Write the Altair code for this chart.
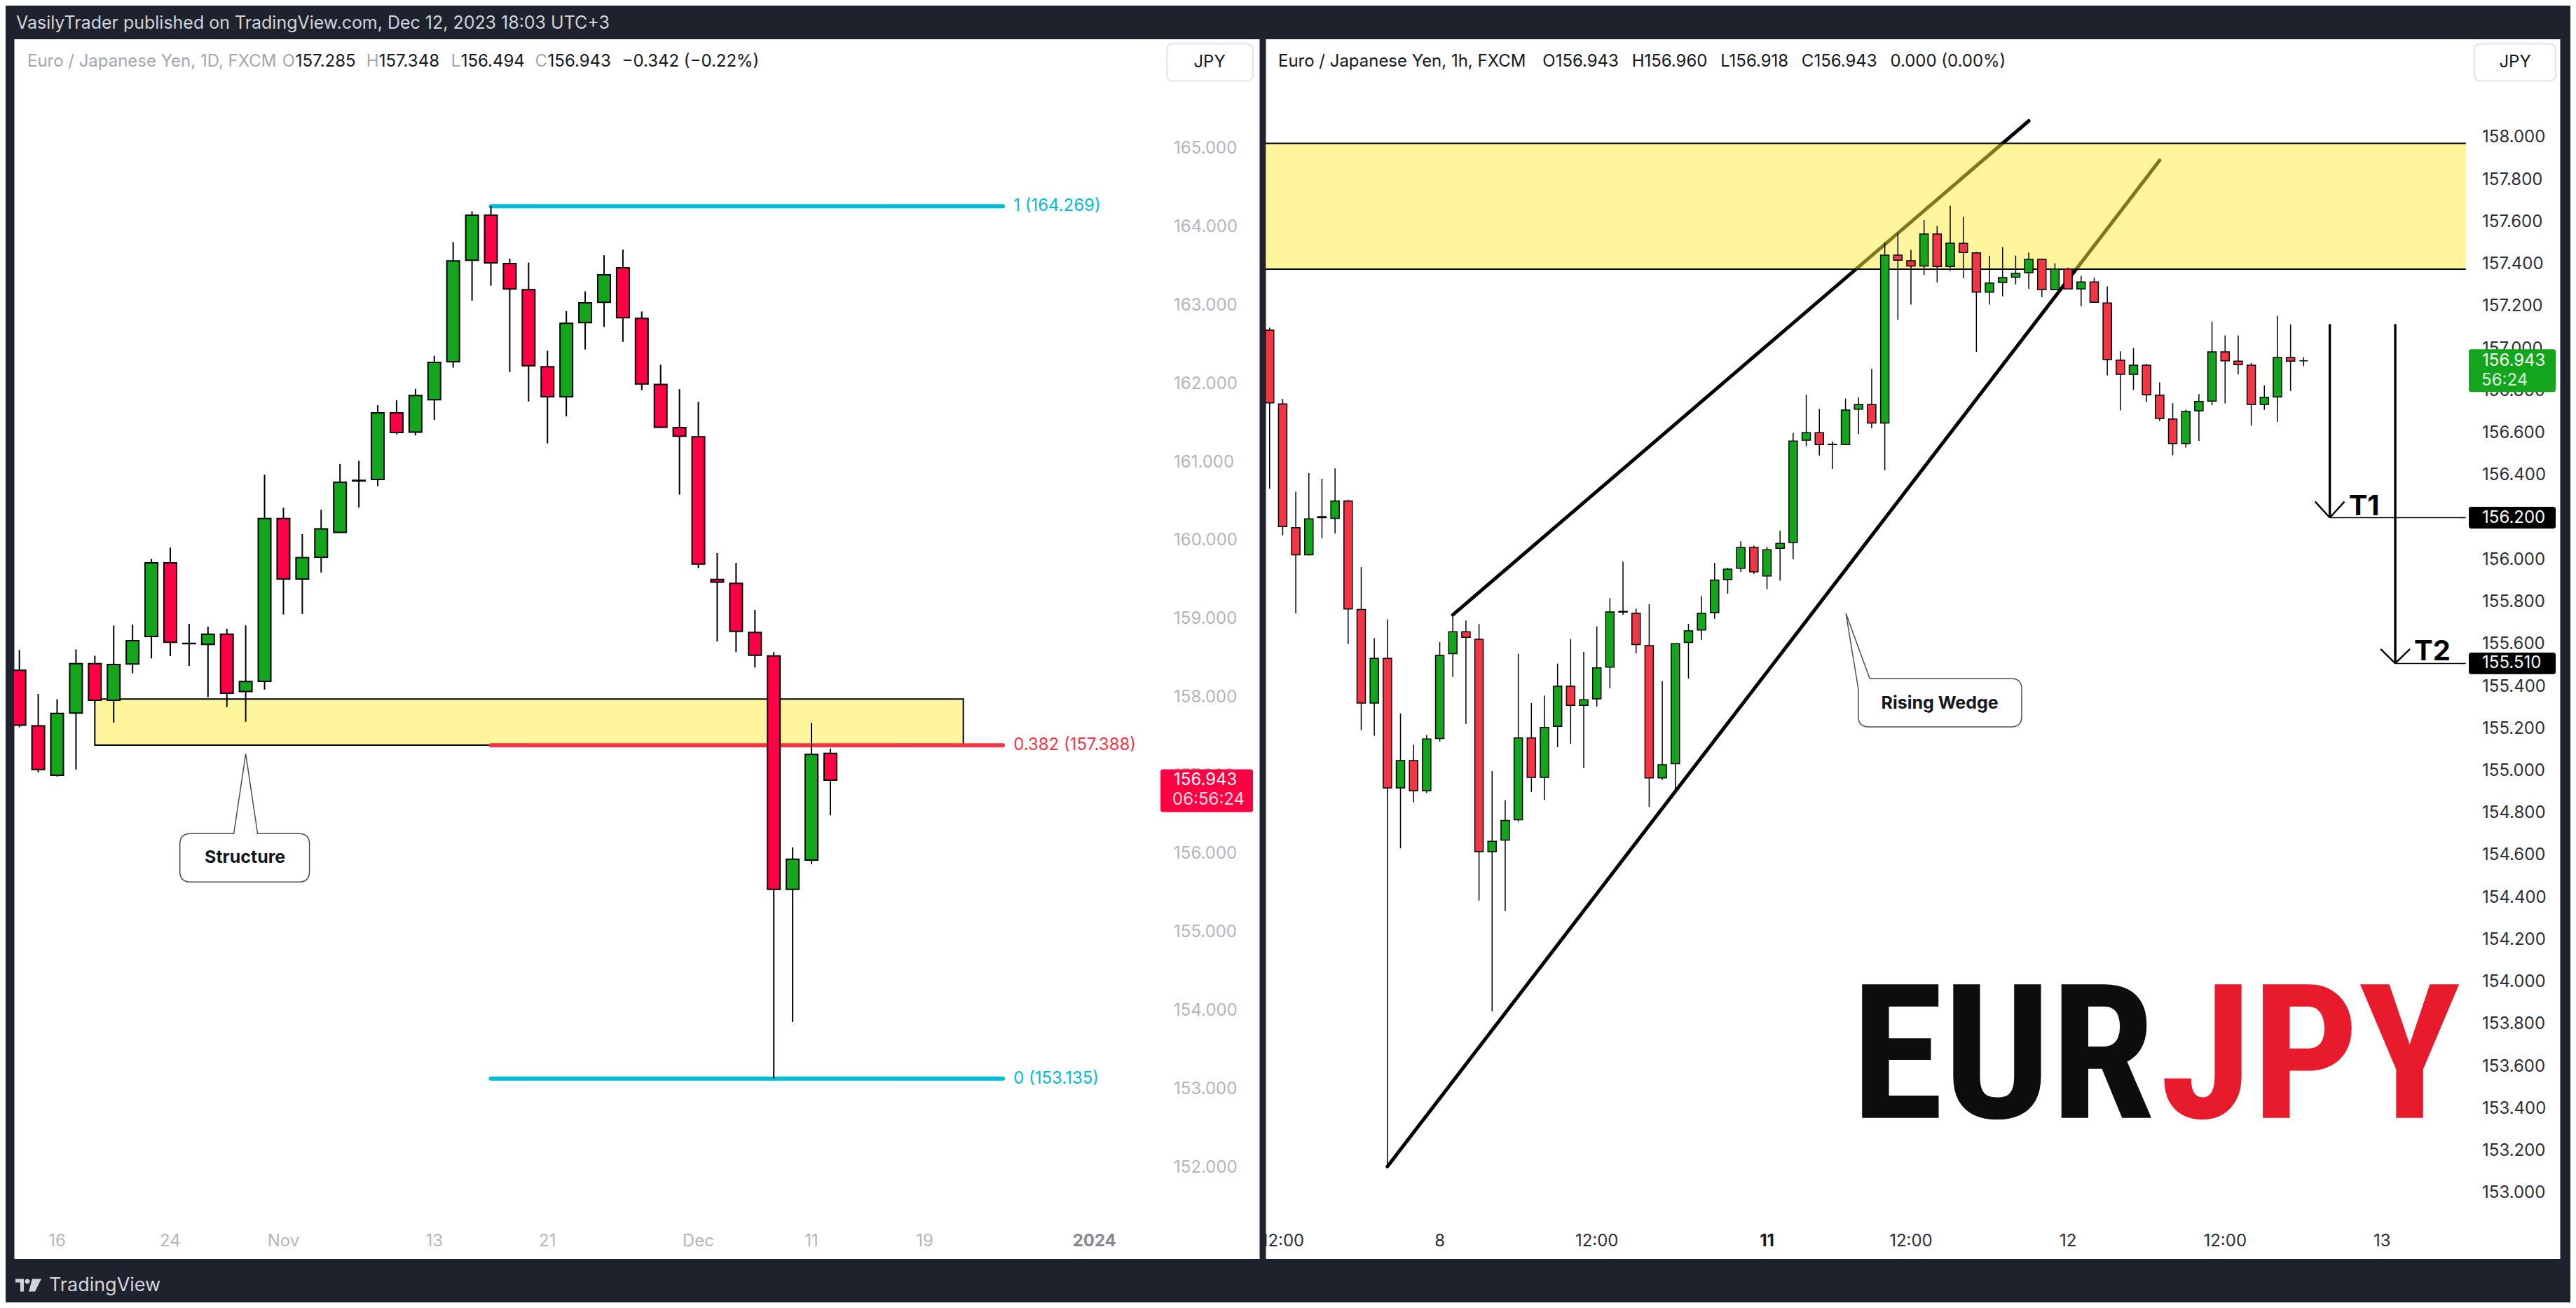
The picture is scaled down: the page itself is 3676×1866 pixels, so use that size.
import altair as alt
import pandas as pd

FONT = "Inter, Roboto, 'Noto Sans', sans-serif"
NARROW = ("'Roboto Condensed', 'Open Sans Condensed', 'Liberation Sans Narrow', "
          "'DejaVu Sans Condensed', 'Liberation Sans', sans-serif")

# ---------------- LEFT PANEL: EUR/JPY daily candles (index 0 = Oct 12, 2023) ----------------
D_IDX = list(range(44))
D_OPEN = [158.347, 157.636, 157.007, 157.801, 158.430, 157.963, 158.426, 158.777, 159.717, 158.690,
          158.678, 158.807, 158.076, 158.205, 160.282, 159.511, 159.789, 160.107, 160.770, 160.782,
          161.632, 161.385, 161.799, 162.284, 163.579, 164.153, 163.537, 163.204, 162.220, 161.837,
          162.782, 163.043, 163.482, 162.836, 161.993, 161.444, 161.326, 159.505, 159.456, 158.828,
          158.529, 155.551, 155.924, 157.285]
D_HIGH = [158.605, 158.043, 157.977, 158.612, 158.532, 158.916, 158.929, 159.769, 159.912, 158.939,
          158.903, 158.876, 158.919, 160.841, 160.421, 160.084, 160.395, 160.980, 161.020, 161.728,
          161.791, 161.938, 162.360, 163.811, 164.203, 164.269, 163.600, 163.549, 162.423, 162.929,
          163.182, 163.642, 163.714, 162.925, 162.246, 161.934, 161.773, 159.843, 159.716, 159.117,
          158.578, 156.086, 157.675, 157.348]
D_LOW = [157.620, 157.044, 156.991, 157.080, 157.940, 157.679, 158.307, 158.499, 158.526, 158.403,
         158.003, 157.877, 157.689, 158.099, 159.058, 159.065, 159.594, 160.100, 160.424, 160.696,
         161.357, 161.343, 161.541, 162.208, 163.064, 163.254, 162.153, 161.777, 161.242, 161.588,
         162.440, 162.727, 162.537, 161.921, 161.440, 160.588, 159.651, 158.715, 158.578, 158.382,
         153.135, 153.859, 155.870, 156.494]
D_CLOSE = [157.646, 157.080, 157.795, 158.430, 157.963, 158.420, 158.724, 159.717, 158.704, 158.686,
           158.807, 158.053, 158.202, 160.282, 159.511, 159.783, 160.150, 160.745, 160.762, 161.632,
           161.380, 161.853, 162.275, 163.571, 164.153, 163.545, 163.212, 162.233, 161.837, 162.773,
           163.035, 163.393, 162.845, 162.001, 161.448, 161.334, 159.702, 159.470, 158.843, 158.538,
           155.551, 155.934, 157.273, 156.943]
D_TICK_IDX = [2, 8, 14, 22, 28, 36, 42, 48, 57]
D_TICK_LBL = ["16", "24", "Nov", "13", "21", "Dec", "11", "19", "2024"]
D_BOLD_TICK = 57
D_PRICE_TICKS = [152.0, 153.0, 154.0, 155.0, 156.0, 157.0, 158.0, 159.0, 160.0, 161.0,
                 162.0, 163.0, 164.0, 165.0]

FIB_LEVEL = ["1", "0.382", "0"]
FIB_PRICE = [164.269, 157.388, 153.135]
FIB_FROM = [25, 25, 25]
FIB_TO = [52.15, 52.15, 52.15]
FIB_COLOR = ["#00bcd4", "#f23645", "#00bcd4"]

STRUCT_X = [4.0]
STRUCT_X2 = [50.05]
STRUCT_LO = [157.39]
STRUCT_HI = [157.98]
STRUCT_TIP_X = [12.0]
STRUCT_TIP_P = [157.28]
STRUCT_TEXT = ["Structure"]

D_LAST = [156.943]
D_LAST_TXT = ["156.943"]
D_TIMER = ["06:56:24"]

LEG_L_TEXT = ["Euro / Japanese Yen, 1D, FXCM", "O", "157.285", "H", "157.348", "L", "156.494",
              "C", "156.943", "\u22120.342 (\u22120.22%)"]

# ---------------- RIGHT PANEL: EUR/JPY 1h candles (index 0 = Dec 8 00:00) ----------------
H_IDX = list(range(-13, 67))
H_OPEN = [157.088, 156.739, 156.153, 156.024, 156.205, 156.197, 156.279, 155.765, 155.322, 155.534,
          154.920, 155.050, 154.907, 155.154, 155.556, 155.660, 155.624, 154.618, 154.673, 154.769,
          155.157, 154.970, 155.212, 155.402, 155.311, 155.342, 155.492, 155.753, 155.747, 155.594,
          154.968, 155.035, 155.609, 155.668, 155.750, 155.907, 155.960, 156.059, 155.924, 156.055,
          156.082, 156.567, 156.603, 156.548, 156.546, 156.714, 156.736, 156.648, 157.443, 157.417,
          157.392, 157.544, 157.389, 157.499, 157.454, 157.268, 157.314, 157.339, 157.360, 157.423,
          157.280, 157.378, 157.283, 157.316, 157.217, 156.946, 156.879, 156.922, 156.780, 156.667,
          156.551, 156.706, 156.752, 156.985, 156.941, 156.922, 156.736, 156.772, 156.959, 156.943]
H_HIGH = [157.100, 156.763, 156.323, 156.411, 156.384, 156.433, 156.285, 155.966, 155.630, 155.718,
          155.273, 155.124, 155.171, 155.611, 155.740, 155.713, 155.696, 155.000, 154.862, 155.556,
          155.322, 155.358, 155.509, 155.625, 155.564, 155.685, 155.819, 155.992, 155.769, 155.790,
          155.426, 155.603, 155.697, 155.829, 155.986, 155.963, 156.088, 156.068, 156.062, 156.138,
          156.602, 156.783, 156.715, 156.560, 156.764, 156.769, 156.905, 157.504, 157.548, 157.469,
          157.609, 157.582, 157.677, 157.624, 157.458, 157.441, 157.482, 157.441, 157.456, 157.423,
          157.405, 157.384, 157.345, 157.338, 157.296, 156.988, 157.004, 156.929, 156.841, 156.742,
          156.711, 156.785, 157.129, 157.063, 157.063, 156.932, 156.827, 157.156, 157.116, 156.960]
H_LOW = [156.337, 156.117, 155.746, 156.021, 156.103, 156.125, 155.602, 155.193, 155.168, 153.127,
         154.634, 154.852, 154.896, 155.140, 155.446, 155.223, 154.387, 153.861, 154.337, 154.760,
         154.901, 154.863, 155.113, 155.129, 155.014, 155.305, 155.392, 155.740, 155.557, 154.830,
         154.958, 154.912, 155.438, 155.622, 155.721, 155.840, 155.943, 155.933, 155.862, 155.902,
         156.003, 156.538, 156.495, 156.431, 156.546, 156.596, 156.623, 156.424, 157.137, 157.209,
         157.350, 157.314, 157.369, 157.334, 156.985, 157.209, 157.248, 157.305, 157.284, 157.244,
         157.280, 157.283, 157.201, 157.220, 156.874, 156.708, 156.805, 156.747, 156.658, 156.496,
         156.532, 156.564, 156.733, 156.741, 156.879, 156.637, 156.711, 156.654, 156.800, 156.918]
H_CLOSE = [156.744, 156.158, 156.024, 156.194, 156.200, 156.279, 155.768, 155.322, 155.534, 154.920,
           155.050, 154.907, 155.152, 155.548, 155.660, 155.633, 154.618, 154.667, 154.766, 155.157,
           154.970, 155.207, 155.402, 155.311, 155.338, 155.489, 155.754, 155.756, 155.599, 154.968,
           155.030, 155.603, 155.664, 155.747, 155.905, 155.956, 156.059, 155.944, 156.048, 156.078,
           156.563, 156.603, 156.546, 156.546, 156.710, 156.736, 156.648, 157.443, 157.419, 157.392,
           157.544, 157.389, 157.500, 157.456, 157.268, 157.311, 157.337, 157.357, 157.423, 157.280,
           157.378, 157.283, 157.316, 157.220, 156.949, 156.879, 156.922, 156.782, 156.670, 156.551,
           156.703, 156.750, 156.985, 156.943, 156.925, 156.736, 156.770, 156.959, 156.941, 156.943]
H_TICK_IDX = [-12, 0, 12, 25, 36, 48, 60, 72]
H_TICK_LBL = ["12:00", "8", "12:00", "11", "12:00", "12", "12:00", "13"]
H_BOLD_TICK = 25
H_PRICE_TICKS = [153.0, 153.2, 153.4, 153.6, 153.8, 154.0, 154.2, 154.4, 154.6, 154.8,
                 155.0, 155.2, 155.4, 155.6, 155.8, 156.0, 156.2, 156.4, 156.6, 156.8,
                 157.0, 157.2, 157.4, 157.6, 157.8, 158.0]

ZONE_X = [-14.0]
ZONE_X2 = [78.39]
ZONE_LO = [157.377]
ZONE_HI = [157.973]

WEDGE_X1 = [1.0, -4.0]
WEDGE_P1 = [155.740, 153.127]
WEDGE_X2 = [45.0, 55.0]
WEDGE_P2 = [158.079, 157.892]

TARGET_NAME = ["T1", "T2"]
TARGET_PRICE = [156.200, 155.510]
TARGET_X = [68.0, 73.0]
TARGET_TOP = [157.117, 157.117]
TARGET_HEAD_DX = [1.12, 1.12]
TARGET_HEAD_DP = [0.076, 0.068]
PLOT_EDGE_X = 78.39

WEDGE_TIP_X = [31.03]
WEDGE_TIP_P = [155.747]
WEDGE_TEXT = ["Rising Wedge"]

H_LAST = [156.943]
H_LAST_TXT = ["156.943"]
H_TIMER = ["56:24"]

LOGO_X = [54.6]
LOGO_P = [153.358]

LEG_R_TEXT = ("Euro / Japanese Yen, 1h, FXCM\u2003O156.943\u2002 H156.960\u2002 L156.918\u2002 "
              "C156.943\u2002 0.000 (0.00%)")
HEADER = "VasilyTrader published on TradingView.com, Dec 12, 2023 18:03 UTC+3"

# ---------------- styling ----------------
GREEN = "#13a51b"
RED_D = "#ff0044"
RED_H = "#f23645"
BG = "#1e222d"
ONE = pd.DataFrame({"_": [0]})

LW, LH = 1778, 1741
RW, RH = 1848, 1741
XLAB_Y = LH - 25


def px_text(text, x, y, size, color, weight="normal", align="left", font=FONT):
    return alt.Chart(ONE).mark_text(text=text, align=align, baseline="middle", fontSize=size,
                                    color=color, fontWeight=weight, font=font).encode(
        x=alt.value(x), y=alt.value(y))


def px_box(x, x2, y, y2):
    return alt.Chart(ONE).mark_rect(fill="white", stroke="#e0e3eb", strokeWidth=2,
                                    cornerRadius=8).encode(
        x=alt.value(x), x2=alt.value(x2), y=alt.value(y), y2=alt.value(y2))


def candles(df, xs, ys, body_w, sw, red):
    wick = alt.Chart(df).mark_rule(color="black", strokeWidth=sw, clip=True).encode(
        x=alt.X("t:Q", scale=xs, axis=None),
        y=alt.Y("l:Q", scale=ys, axis=None),
        y2="h:Q")
    body = alt.Chart(df).mark_bar(size=body_w, stroke="black", strokeWidth=sw, clip=True).encode(
        x=alt.X("t:Q", scale=xs, axis=None),
        y=alt.Y("o:Q", scale=ys, axis=None),
        y2="c:Q",
        color=alt.condition("datum.c >= datum.o", alt.value(GREEN), alt.value(red)))
    return wick, body


def price_labels(ticks, ys, x, color):
    df = pd.DataFrame({"p": ticks, "txt": [f"{v:.3f}" for v in ticks]})
    return alt.Chart(df).mark_text(align="left", baseline="middle", fontSize=24, font=FONT,
                                   color=color).encode(
        x=alt.value(x), y=alt.Y("p:Q", scale=ys, axis=None), text="txt:N")


def time_labels(idx, lbl, xs, bold_idx, color, bold_color):
    df = pd.DataFrame({"t": idx, "txt": lbl})
    reg = alt.Chart(df).transform_filter(f"datum.t != {bold_idx}").mark_text(
        align="center", baseline="middle", fontSize=24, font=FONT, color=color, clip=True).encode(
        x=alt.X("t:Q", scale=xs, axis=None), y=alt.value(XLAB_Y), text="txt:N")
    bld = alt.Chart(df).transform_filter(f"datum.t == {bold_idx}").mark_text(
        align="center", baseline="middle", fontSize=24, font=FONT, color=bold_color,
        fontWeight="bold", clip=True).encode(
        x=alt.X("t:Q", scale=xs, axis=None), y=alt.value(XLAB_Y), text="txt:N")
    return reg, bld


# ================= LEFT PANEL =================
LX = alt.Scale(domain=[-0.0997, 65.557], nice=False, zero=False)
LY = alt.Scale(domain=[150.838, 166.404], nice=False, zero=False)

ddf = pd.DataFrame({"t": D_IDX, "o": D_OPEN, "h": D_HIGH, "l": D_LOW, "c": D_CLOSE})

struct_df = pd.DataFrame({"x": STRUCT_X, "x2": STRUCT_X2, "lo": STRUCT_LO, "hi": STRUCT_HI})
struct_box = alt.Chart(struct_df).mark_rect(fill="#fff59d", stroke="black", strokeWidth=2).encode(
    x=alt.X("x:Q", scale=LX, axis=None), x2="x2:Q",
    y=alt.Y("lo:Q", scale=LY, axis=None), y2="hi:Q")

fib_df = pd.DataFrame({"lvl": FIB_LEVEL, "p": FIB_PRICE, "x": FIB_FROM, "x2": FIB_TO, "col": FIB_COLOR})
fib_df["txt"] = fib_df["lvl"] + " (" + fib_df["p"].map(lambda v: f"{v:.3f}") + ")"
fib_lines = alt.Chart(fib_df).mark_rule(strokeWidth=6, strokeCap="round").encode(
    x=alt.X("x:Q", scale=LX, axis=None), x2="x2:Q",
    y=alt.Y("p:Q", scale=LY, axis=None),
    color=alt.Color("col:N", scale=None))
fib_text = alt.Chart(fib_df).mark_text(align="left", baseline="middle", dx=15, fontSize=24,
                                       font=FONT).encode(
    x=alt.X("x2:Q", scale=LX, axis=None), y=alt.Y("p:Q", scale=LY, axis=None),
    text="txt:N", color=alt.Color("col:N", scale=None))

d_wick, d_body = candles(ddf, LX, LY, 18, 2, RED_D)
d_plab = price_labels(D_PRICE_TICKS, LY, 1656, "#b2b5be")
d_tlab, d_tlab_b = time_labels(D_TICK_IDX, D_TICK_LBL, LX, D_BOLD_TICK, "#b2b5be", "#868993")

STRUCT_PATH = ("M0,0 L17,114 L76,114 Q91,114 91,129 L91,168 Q91,183 76,183 L-79,183 "
               "Q-94,183 -94,168 L-94,129 Q-94,114 -79,114 L-17,114 Z")
sdf = pd.DataFrame({"x": STRUCT_TIP_X, "p": STRUCT_TIP_P, "txt": STRUCT_TEXT})
struct_call = alt.Chart(sdf).mark_point(shape=STRUCT_PATH, size=4, filled=True, fill="white",
                                        stroke="#4a4d57", strokeWidth=1.5, opacity=1).encode(
    x=alt.X("x:Q", scale=LX, axis=None), y=alt.Y("p:Q", scale=LY, axis=None))
struct_txt = alt.Chart(sdf).mark_text(dx=-1, dy=148, fontSize=25, fontWeight="bold", font=FONT,
                                      color="#131722", baseline="middle").encode(
    x=alt.X("x:Q", scale=LX, axis=None), y=alt.Y("p:Q", scale=LY, axis=None), text="txt:N")

tagd = pd.DataFrame({"p": D_LAST, "txt": D_LAST_TXT, "tm": D_TIMER})
tagL = alt.Chart(tagd).mark_tick(orient="horizontal", size=132, thickness=61, color="#ff0043",
                                 yOffset=15, opacity=1, cornerRadius=3).encode(
    x=alt.value(1703), y=alt.Y("p:Q", scale=LY, axis=None))
tagL_t1 = alt.Chart(tagd).mark_text(align="left", baseline="middle", fontSize=24, font=FONT,
                                    color="white").encode(
    x=alt.value(1656), y=alt.Y("p:Q", scale=LY, axis=None), text="txt:N")
tagL_t2 = alt.Chart(tagd).mark_text(align="left", baseline="middle", fontSize=24, font=FONT,
                                    color="white", opacity=0.85, dy=28).encode(
    x=alt.value(1654), y=alt.Y("p:Q", scale=LY, axis=None), text="tm:N")

LEG_L_X = [19, 383, 402, 503, 521, 624, 638, 744, 762, 868]
leg_left = []
for i, (s, xx) in enumerate(zip(LEG_L_TEXT, LEG_L_X)):
    col = "#a3a6af" if (i == 0 or s in ("O", "H", "L", "C")) else "#131722"
    leg_left.append(px_text(s, xx, 33, 24, col))

left = alt.layer(
    d_plab, d_tlab, d_tlab_b,
    struct_box, fib_lines, d_wick, d_body, fib_text, struct_call, struct_txt,
    tagL, tagL_t1, tagL_t2,
    *leg_left,
    px_box(1646, 1769, 7, 60), px_text("JPY", 1707, 34, 24, "#131722", align="center"),
    px_text(HEADER, 3, -22, 25, "#d1d4dc"),
    alt.Chart(ONE).mark_point(
        shape="M-18,-9 H-6 V9 H-11 V-4 H-18 Z M-4.5,-5.5 A3.5,3.5 0 1,0 2.5,-5.5 A3.5,3.5 0 1,0 -4.5,-5.5 Z M6,-9 H19 L10,9 H1 Z",
        size=4, filled=True, fill="#d1d4dc", strokeWidth=0, opacity=1).encode(
        x=alt.value(20), y=alt.value(1779)),
    px_text("TradingView", 50, 1779, 27, "#d1d4dc"),
).properties(width=LW, height=LH)

# ================= RIGHT PANEL =================
HX = alt.Scale(domain=[-13.039, 85.311], nice=False, zero=False)
HY = alt.Scale(domain=[152.6911, 158.4675], nice=False, zero=False)

hdf = pd.DataFrame({"t": H_IDX, "o": H_OPEN, "h": H_HIGH, "l": H_LOW, "c": H_CLOSE})

wedge_df = pd.DataFrame({"x1": WEDGE_X1, "p1": WEDGE_P1, "x2": WEDGE_X2, "p2": WEDGE_P2})
wedge = alt.Chart(wedge_df).mark_rule(color="black", strokeWidth=5, clip=True, strokeCap="round").encode(
    x=alt.X("x1:Q", scale=HX, axis=None), x2="x2:Q",
    y=alt.Y("p1:Q", scale=HY, axis=None), y2="p2:Q")

zone_df = pd.DataFrame({"x": ZONE_X, "x2": ZONE_X2, "lo": ZONE_LO, "hi": ZONE_HI})
zone = alt.Chart(zone_df).mark_rect(color="#ffeb3b", opacity=0.5, clip=True).encode(
    x=alt.X("x:Q", scale=HX, axis=None), x2="x2:Q",
    y=alt.Y("lo:Q", scale=HY, axis=None), y2="hi:Q")
zone_edges = alt.Chart(zone_df).transform_fold(["lo", "hi"], as_=["k", "pp"]).mark_rule(
    color="black", strokeWidth=2, clip=True).encode(
    x=alt.X("x:Q", scale=HX, axis=None), x2="x2:Q",
    y=alt.Y("pp:Q", scale=HY, axis=None))

h_wick, h_body = candles(hdf, HX, HY, 12, 1.5, RED_H)
h_plab = price_labels(H_PRICE_TICKS, HY, 1737, "#2a2e39")
h_tlab, h_tlab_b = time_labels(H_TICK_IDX, H_TICK_LBL, HX, H_BOLD_TICK, "#2a2e39", "#131722")

# target arrows (segments in data space)
seg_rows = []
for nm, pr, tx, top, hdx, hdp in zip(TARGET_NAME, TARGET_PRICE, TARGET_X, TARGET_TOP,
                                     TARGET_HEAD_DX, TARGET_HEAD_DP):
    seg_rows.append({"x1": tx, "p1": top, "x2": tx, "p2": pr, "w": 3.4})
    seg_rows.append({"x1": tx - hdx, "p1": pr + hdp, "x2": tx, "p2": pr, "w": 2.4})
    seg_rows.append({"x1": tx + hdx, "p1": pr + hdp, "x2": tx, "p2": pr, "w": 2.4})
    seg_rows.append({"x1": tx, "p1": pr, "x2": PLOT_EDGE_X, "p2": pr, "w": 1.5})
seg_df = pd.DataFrame(seg_rows)
arrows = alt.Chart(seg_df).mark_rule(color="black", clip=True).encode(
    x=alt.X("x1:Q", scale=HX, axis=None), x2="x2:Q",
    y=alt.Y("p1:Q", scale=HY, axis=None), y2="p2:Q",
    strokeWidth=alt.StrokeWidth("w:Q", scale=None))
tg_df = pd.DataFrame({"x": TARGET_X, "p": TARGET_PRICE, "nm": TARGET_NAME})
tg_txt = alt.Chart(tg_df).mark_text(align="left", baseline="middle", dx=27, dy=-16, fontSize=40,
                                    fontWeight="bold", font=FONT, color="black").encode(
    x=alt.X("x:Q", scale=HX, axis=None), y=alt.Y("p:Q", scale=HY, axis=None), text="nm:N")

WEDGE_PATH = ("M0,0 L34,93 L236,93 Q251,93 251,108 L251,147 Q251,162 236,162 L32.7,162 "
              "Q17.7,162 17.7,147 L17.7,108 Z")
wdf = pd.DataFrame({"x": WEDGE_TIP_X, "p": WEDGE_TIP_P, "txt": WEDGE_TEXT})
wedge_call = alt.Chart(wdf).mark_point(shape=WEDGE_PATH, size=4, filled=True, fill="white",
                                       stroke="#4a4d57", strokeWidth=1.5, opacity=1).encode(
    x=alt.X("x:Q", scale=HX, axis=None), y=alt.Y("p:Q", scale=HY, axis=None))
wedge_txt = alt.Chart(wdf).mark_text(dx=134, dy=128, fontSize=25, fontWeight="bold", font=FONT,
                                     color="#131722", baseline="middle").encode(
    x=alt.X("x:Q", scale=HX, axis=None), y=alt.Y("p:Q", scale=HY, axis=None), text="txt:N")

logo_df = pd.DataFrame({"x": LOGO_X, "p": LOGO_P})
logo_eur = alt.Chart(logo_df).mark_text(text="EUR", align="right", baseline="alphabetic",
                                        fontSize=268, fontWeight="bold", font=NARROW,
                                        color="#0d0d0d").encode(
    x=alt.X("x:Q", scale=HX, axis=None), y=alt.Y("p:Q", scale=HY, axis=None))
logo_jpy = alt.Chart(logo_df).mark_text(text="JPY", align="left", baseline="alphabetic",
                                        fontSize=268, fontWeight="bold", font=NARROW,
                                        color="#e81b2c", dx=8).encode(
    x=alt.X("x:Q", scale=HX, axis=None), y=alt.Y("p:Q", scale=HY, axis=None))

tagh = pd.DataFrame({"p": H_LAST, "txt": H_LAST_TXT, "tm": H_TIMER})
tagR = alt.Chart(tagh).mark_tick(orient="horizontal", size=124, thickness=61, color="#13a51b",
                                 yOffset=14, opacity=1, cornerRadius=3).encode(
    x=alt.value(1780), y=alt.Y("p:Q", scale=HY, axis=None))
tagR_t1 = alt.Chart(tagh).mark_text(align="left", baseline="middle", fontSize=24, font=FONT,
                                    color="white").encode(
    x=alt.value(1737), y=alt.Y("p:Q", scale=HY, axis=None), text="txt:N")
tagR_t2 = alt.Chart(tagh).mark_text(align="left", baseline="middle", fontSize=24, font=FONT,
                                    color="white", opacity=0.85, dy=28).encode(
    x=alt.value(1736), y=alt.Y("p:Q", scale=HY, axis=None), text="tm:N")
tgt_tag_df = pd.DataFrame({"p": TARGET_PRICE, "txt": [f"{v:.3f}" for v in TARGET_PRICE]})
tgt_tags = alt.Chart(tgt_tag_df).mark_tick(orient="horizontal", size=124, thickness=31, color="black",
                                           opacity=1, cornerRadius=3).encode(
    x=alt.value(1780), y=alt.Y("p:Q", scale=HY, axis=None))
tgt_tags_t = alt.Chart(tgt_tag_df).mark_text(align="left", baseline="middle", fontSize=24, font=FONT,
                                             color="white").encode(
    x=alt.value(1737), y=alt.Y("p:Q", scale=HY, axis=None), text="txt:N")

right = alt.layer(
    h_plab, h_tlab, h_tlab_b,
    wedge, zone, zone_edges, h_wick, h_body, arrows, tg_txt,
    wedge_call, wedge_txt, logo_eur, logo_jpy,
    tagR, tagR_t1, tagR_t2, tgt_tags, tgt_tags_t,
    px_text(LEG_R_TEXT, 18, 33, 24, "#131722"),
    px_box(1726, 1842, 7, 60), px_text("JPY", 1784, 34, 24, "#131722", align="center"),
).properties(width=RW, height=RH)

chart = alt.hconcat(left, right, spacing=9, bounds="flush").properties(
    padding={"left": 11, "top": 12, "right": 14, "bottom": 10},
    background=BG,
).configure_view(fill="white", stroke="transparent")

chart.save("out.html", embed_options={"renderer": "svg", "actions": False})
